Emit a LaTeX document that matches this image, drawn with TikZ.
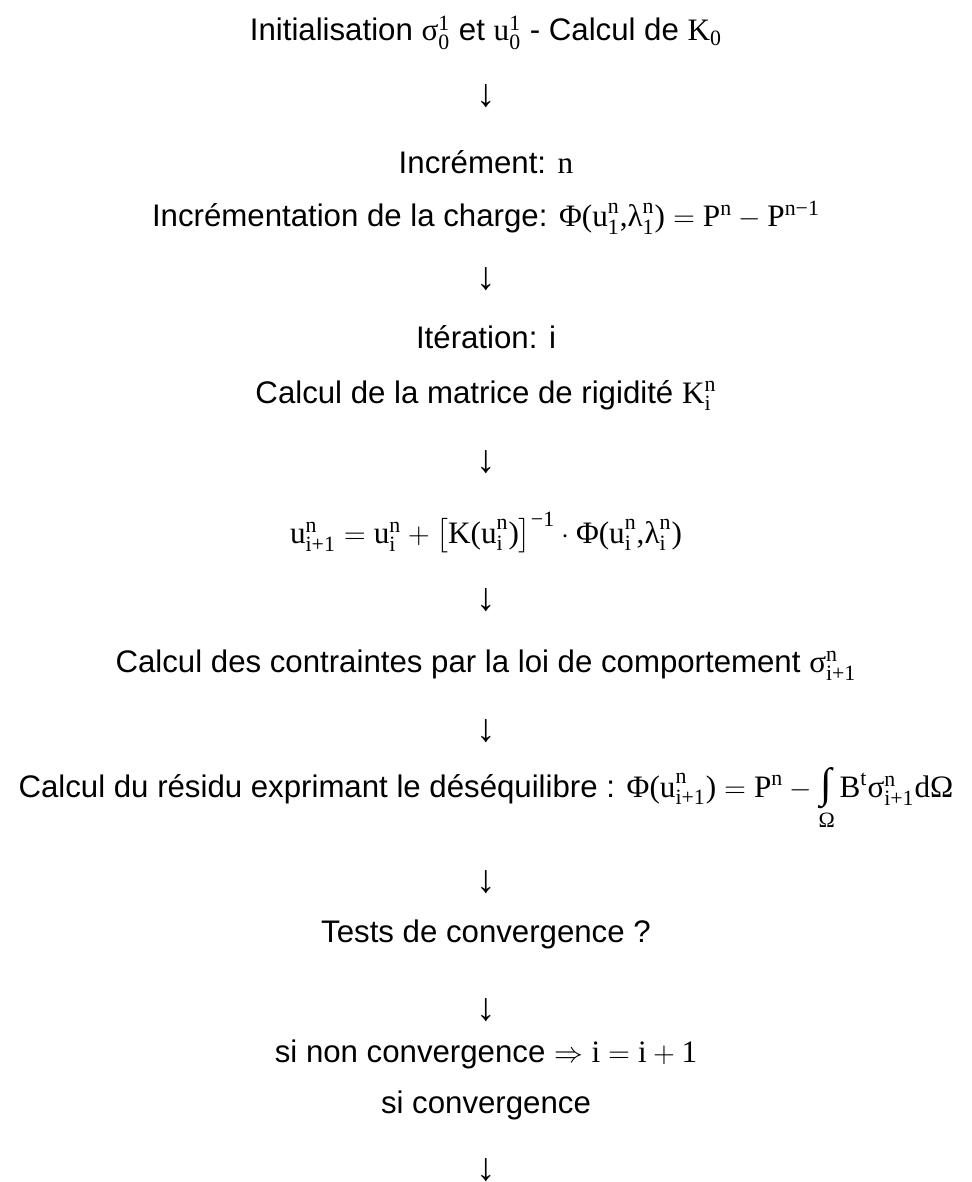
\documentclass[tikz,border=0pt]{standalone}
\usepackage{amsmath}
\usepackage{fontspec}
\setmainfont{Liberation Sans}
\newfontfamily\tnr{Liberation Serif}
\usepackage{tikz}

\newcommand{\tm}[1]{\text{\tnr #1}}
\newcommand{\integ}{\mathop{\text{\tnr\fontsize{21}{21}\selectfont ∫}}\limits}

\tikzset{
    ligne/.style={anchor=base, inner sep=0pt, font=\fontsize{15.6}{18}\selectfont},
    fleche/.style={inner sep=0pt, font=\fontsize{19.5}{22}\selectfont\tnr}
}

\begin{document}
\begin{tikzpicture}[x=0.5pt,y=-0.5pt]
    \useasboundingbox (0,0) rectangle (972,1182);
    \node[ligne] (init) at (486,41) {Initialisation $\tm{σ}^{\tm{1}}_{\tm{0}}$ et $\tm{u}^{\tm{1}}_{\tm{0}}$ - Calcul de $\tm{K}_{\tm{0}}$};
    \node[fleche] (f1) at (486,96) {↓};
    \node[ligne] (incr) at (486,174) {Incrément: {\tnr n}};
    \node[ligne] (charge) at (486,227) {Incrémentation de la charge: $\tm{Φ(u}^{\tm{n}}_{\tm{1}}\tm{,λ}^{\tm{n}}_{\tm{1}}\tm{)} = \tm{P}^{\tm{n}} - \tm{P}^{\tm{n−1}}$};
    \node[fleche] (f2) at (486,279) {↓};
    \node[ligne] (iter) at (486,348) {Itération: i};
    \node[ligne] (rigid) at (486,403) {Calcul de la matrice de rigidité $\tm{K}^{\tm{n}}_{\tm{i}}$};
    \node[fleche] (f3) at (486,462) {↓};
    \node[ligne] (depl) at (486,543) {$\tm{u}^{\tm{n}}_{\tm{i+1}} = \tm{u}^{\tm{n}}_{\tm{i}} + \bigl[\tm{K(u}^{\tm{n}}_{\tm{i}}\tm{)}\bigr]^{\tm{−1}} \cdot \tm{Φ(u}^{\tm{n}}_{\tm{i}}\tm{,λ}^{\tm{n}}_{\tm{i}}\tm{)}$};
    \node[fleche] (f4) at (486,600) {↓};
    \node[ligne] (contr) at (486,672) {Calcul des contraintes par la loi de comportement $\tm{σ}^{\tm{n}}_{\tm{i+1}}$};
    \node[fleche] (f5) at (486,731) {↓};
    \node[ligne] (resid) at (486,797) {Calcul du résidu exprimant le déséquilibre : $\tm{Φ(u}^{\tm{n}}_{\tm{i+1}}\tm{)} = \tm{P}^{\tm{n}} - \integ_{\tm{Ω}} \tm{B}^{\tm{t}}\tm{σ}^{\tm{n}}_{\tm{i+1}}\tm{dΩ}$};
    \node[fleche] (f6) at (486,882) {↓};
    \node[ligne] (tests) at (486,942) {Tests de convergence ?};
    \node[fleche] (f7) at (486,1010) {↓};
    \node[ligne] (nonconv) at (486,1062) {si non convergence $\Rightarrow$ $\tm{i} = \tm{i} + \tm{1}$};
    \node[ligne] (conv) at (486,1113) {si convergence};
    \node[fleche] (f8) at (486,1170) {↓};
\end{tikzpicture}
\end{document}
